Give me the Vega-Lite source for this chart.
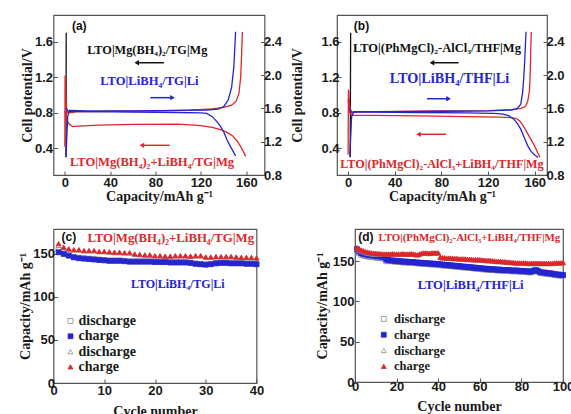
{
"$schema":"https://vega.github.io/schema/vega-lite/v6.json",
"background":"white",
"padding":{"left":17.5,"top":14,"right":0,"bottom":0},
"columns":1,
"spacing":24,
"resolve":{"scale":{"shape":"independent","fill":"independent","stroke":"independent","color":"independent"},"legend":{"shape":"independent","fill":"independent","stroke":"independent","color":"independent"}},
"config":{
 "view":{"stroke":"#555555","strokeWidth":1.2},
 "axis":{"domain":false,"grid":false,"ticks":true,"tickSize":-4,"tickColor":"#555555","tickWidth":1,"labelFont":"Liberation Sans","labelFontSize":13,"labelFontWeight":"bold","labelColor":"#1a1a1a","titleFont":"Liberation Serif","titleFontSize":14,"titleFontWeight":"bold","titleColor":"#1a1a1a","labelFlush":false,"labelOverlap":false},
 "text":{"font":"Liberation Serif","fontWeight":"bold","baseline":"middle","align":"center"}
},
"datasets":{
 "aL":[
  {"x":1.0,"y":0.30,"c":"k","k":"k1"},{"x":1.2,"y":1.70,"c":"k","k":"k1"},
  {"x":0.0,"y":0.42,"c":"r","k":"r1"},{"x":0.2,"y":1.22,"c":"r","k":"r1"},{"x":1.0,"y":0.95,"c":"r","k":"r1"},{"x":2,"y":0.80,"c":"r","k":"r1"},{"x":4,"y":0.80,"c":"r","k":"r1"},{"x":10,"y":0.81,"c":"r","k":"r1"},{"x":40,"y":0.815,"c":"r","k":"r1"},{"x":80,"y":0.82,"c":"r","k":"r1"},{"x":110,"y":0.83,"c":"r","k":"r1"},{"x":130,"y":0.845,"c":"r","k":"r1"},{"x":140,"y":0.86,"c":"r","k":"r1"},{"x":147,"y":0.885,"c":"r","k":"r1"},{"x":151,"y":0.93,"c":"r","k":"r1"},{"x":153.5,"y":1.02,"c":"r","k":"r1"},{"x":155,"y":1.2,"c":"r","k":"r1"},{"x":155.8,"y":1.45,"c":"r","k":"r1"},{"x":156.5,"y":1.71,"c":"r","k":"r1"},
  {"x":0,"y":0.82,"c":"r","k":"r2"},{"x":1.5,"y":0.72,"c":"r","k":"r2"},{"x":4,"y":0.67,"c":"r","k":"r2"},{"x":7,"y":0.645,"c":"r","k":"r2"},{"x":12,"y":0.65,"c":"r","k":"r2"},{"x":30,"y":0.66,"c":"r","k":"r2"},{"x":60,"y":0.67,"c":"r","k":"r2"},{"x":100,"y":0.672,"c":"r","k":"r2"},{"x":120,"y":0.655,"c":"r","k":"r2"},{"x":130,"y":0.635,"c":"r","k":"r2"},{"x":137,"y":0.61,"c":"r","k":"r2"},{"x":143,"y":0.58,"c":"r","k":"r2"},{"x":148,"y":0.54,"c":"r","k":"r2"},{"x":152,"y":0.48,"c":"r","k":"r2"},{"x":155,"y":0.42,"c":"r","k":"r2"},{"x":157.5,"y":0.36,"c":"r","k":"r2"},{"x":159.5,"y":0.31,"c":"r","k":"r2"}
 ],
 "aR":[
  {"x":1.0,"y":1.02,"k":"b1"},{"x":2.5,"y":1.50,"k":"b1"},{"x":4,"y":1.575,"k":"b1"},{"x":20,"y":1.57,"k":"b1"},{"x":60,"y":1.57,"k":"b1"},{"x":100,"y":1.575,"k":"b1"},{"x":125,"y":1.58,"k":"b1"},{"x":135,"y":1.59,"k":"b1"},{"x":140,"y":1.62,"k":"b1"},{"x":144,"y":1.70,"k":"b1"},{"x":147,"y":1.85,"k":"b1"},{"x":149,"y":2.1,"k":"b1"},{"x":150.5,"y":2.52,"k":"b1"},
  {"x":1,"y":1.60,"k":"b2"},{"x":3,"y":1.565,"k":"b2"},{"x":20,"y":1.56,"k":"b2"},{"x":60,"y":1.555,"k":"b2"},{"x":100,"y":1.55,"k":"b2"},{"x":120,"y":1.545,"k":"b2"},{"x":125,"y":1.54,"k":"b2"},{"x":130,"y":1.50,"k":"b2"},{"x":134,"y":1.44,"k":"b2"},{"x":137,"y":1.39,"k":"b2"},{"x":140,"y":1.32,"k":"b2"},{"x":143,"y":1.22,"k":"b2"},{"x":146,"y":1.14,"k":"b2"},{"x":148.5,"y":1.08,"k":"b2"},{"x":150.5,"y":1.03,"k":"b2"}
 ],
 "bL":[
  {"x":1.8,"y":0.30,"c":"k","k":"k1"},{"x":2.2,"y":1.70,"c":"k","k":"k1"},
  {"x":0,"y":0.33,"c":"r","k":"r1"},{"x":0.3,"y":1.06,"c":"r","k":"r1"},{"x":1.5,"y":0.86,"c":"r","k":"r1"},{"x":3,"y":0.80,"c":"r","k":"r1"},{"x":5,"y":0.81,"c":"r","k":"r1"},{"x":40,"y":0.815,"c":"r","k":"r1"},{"x":80,"y":0.82,"c":"r","k":"r1"},{"x":120,"y":0.825,"c":"r","k":"r1"},{"x":140,"y":0.835,"c":"r","k":"r1"},{"x":148,"y":0.85,"c":"r","k":"r1"},{"x":152,"y":0.87,"c":"r","k":"r1"},{"x":154,"y":0.93,"c":"r","k":"r1"},{"x":155.5,"y":1.05,"c":"r","k":"r1"},{"x":156,"y":1.2,"c":"r","k":"r1"},{"x":156.5,"y":1.45,"c":"r","k":"r1"},{"x":157,"y":1.71,"c":"r","k":"r1"},
  {"x":0,"y":0.95,"c":"r","k":"r2"},{"x":1.5,"y":0.80,"c":"r","k":"r2"},{"x":3.5,"y":0.77,"c":"r","k":"r2"},{"x":20,"y":0.77,"c":"r","k":"r2"},{"x":60,"y":0.765,"c":"r","k":"r2"},{"x":100,"y":0.757,"c":"r","k":"r2"},{"x":130,"y":0.75,"c":"r","k":"r2"},{"x":140,"y":0.745,"c":"r","k":"r2"},{"x":144,"y":0.735,"c":"r","k":"r2"},{"x":147,"y":0.71,"c":"r","k":"r2"},{"x":149,"y":0.675,"c":"r","k":"r2"},{"x":152,"y":0.61,"c":"r","k":"r2"},{"x":155,"y":0.54,"c":"r","k":"r2"},{"x":158,"y":0.47,"c":"r","k":"r2"},{"x":160.5,"y":0.41,"c":"r","k":"r2"},{"x":162.5,"y":0.35,"c":"r","k":"r2"},{"x":164.5,"y":0.30,"c":"r","k":"r2"}
 ],
 "bR":[
  {"x":1.5,"y":1.02,"k":"b1"},{"x":3,"y":1.50,"k":"b1"},{"x":5,"y":1.56,"k":"b1"},{"x":40,"y":1.56,"k":"b1"},{"x":80,"y":1.565,"k":"b1"},{"x":120,"y":1.57,"k":"b1"},{"x":140,"y":1.58,"k":"b1"},{"x":145,"y":1.595,"k":"b1"},{"x":148,"y":1.65,"k":"b1"},{"x":149.5,"y":1.78,"k":"b1"},{"x":150.5,"y":1.95,"k":"b1"},{"x":151.5,"y":2.2,"k":"b1"},{"x":152.5,"y":2.52,"k":"b1"},
  {"x":1,"y":1.60,"k":"b2"},{"x":3,"y":1.555,"k":"b2"},{"x":20,"y":1.555,"k":"b2"},{"x":60,"y":1.55,"k":"b2"},{"x":100,"y":1.545,"k":"b2"},{"x":125,"y":1.54,"k":"b2"},{"x":133,"y":1.53,"k":"b2"},{"x":138,"y":1.51,"k":"b2"},{"x":142,"y":1.47,"k":"b2"},{"x":145,"y":1.42,"k":"b2"},{"x":148,"y":1.35,"k":"b2"},{"x":151,"y":1.25,"k":"b2"},{"x":154,"y":1.15,"k":"b2"},{"x":157,"y":1.08,"k":"b2"},{"x":160,"y":1.04,"k":"b2"},{"x":163,"y":1.01,"k":"b2"}
 ],
 "aA":[{"x":63.4,"x2":87.3,"hx":63.4,"y":1.363,"c":"k","h":"l"},{"x":75.4,"x2":94.9,"hx":94.9,"y":0.970,"c":"b","h":"r"},{"x":67.9,"x2":92.4,"hx":67.9,"y":0.434,"c":"r","h":"l"}],
 "bA":[{"x":71.9,"x2":94.7,"hx":71.9,"y":1.363,"c":"k","h":"l"},{"x":67.6,"x2":86.1,"hx":86.1,"y":0.958,"c":"b","h":"r"},{"x":60.4,"x2":83.9,"hx":60.4,"y":0.558,"c":"r","h":"l"}],
 "cP":[
  {"n":1,"b":152,"a":155,"d":162,"c":160},{"n":2,"b":150,"a":151.5,"d":158,"c":157.5},{"n":3,"b":148,"a":149,"d":156,"c":155.5},{"n":4,"b":146,"a":146.5,"d":155,"c":154.5},{"n":5,"b":145,"a":145.5,"d":155,"c":154.5},{"n":6,"b":144.5,"a":145,"d":154,"c":153.5},{"n":7,"b":144,"a":144.5,"d":154,"c":153.5},{"n":8,"b":143.5,"a":144,"d":154,"c":153.5},{"n":9,"b":143,"a":143.5,"d":153,"c":152.5},{"n":10,"b":142.5,"a":143,"d":153,"c":152.5},
  {"n":11,"b":142,"a":142.5,"d":152.5,"c":152},{"n":12,"b":142,"a":142.5,"d":152,"c":151.5},{"n":13,"b":142,"a":142.5,"d":152,"c":151.5},{"n":14,"b":141.5,"a":142,"d":151.5,"c":151},{"n":15,"b":141,"a":141.5,"d":151.5,"c":151},{"n":16,"b":141,"a":141.5,"d":150,"c":149.5},{"n":17,"b":141,"a":141.5,"d":149.5,"c":149},{"n":18,"b":141,"a":141.5,"d":149,"c":148.5},{"n":19,"b":141,"a":141.5,"d":149,"c":148.5},{"n":20,"b":140.5,"a":141,"d":148,"c":147.5},
  {"n":21,"b":140.5,"a":141,"d":148,"c":147.5},{"n":22,"b":140.5,"a":141,"d":147.5,"c":147},{"n":23,"b":140,"a":140.5,"d":147.5,"c":147},{"n":24,"b":140,"a":140.5,"d":148,"c":147.5},{"n":25,"b":140,"a":140.5,"d":148,"c":147.5},{"n":26,"b":140,"a":140.5,"d":148,"c":147.5},{"n":27,"b":139.5,"a":140,"d":147.5,"c":147},{"n":28,"b":138.5,"a":139,"d":148,"c":147.5},{"n":29,"b":138,"a":138.5,"d":148,"c":147.5},{"n":30,"b":137.5,"a":138,"d":146.5,"c":146},
  {"n":31,"b":138,"a":138.5,"d":146.5,"c":146},{"n":32,"b":139,"a":139.5,"d":147,"c":146.5},{"n":33,"b":139.5,"a":140,"d":147,"c":146.5},{"n":34,"b":139.5,"a":140,"d":147,"c":146.5},{"n":35,"b":139,"a":139.5,"d":147,"c":146.5},{"n":36,"b":139,"a":139.5,"d":146.5,"c":146},{"n":37,"b":139,"a":139.5,"d":146,"c":145.5},{"n":38,"b":138.5,"a":139,"d":146,"c":145.5},{"n":39,"b":138.5,"a":139,"d":146,"c":145.5},{"n":40,"b":138,"a":138.5,"d":145.5,"c":145}
 ],
 "dP":[
  {"n":1,"b":165,"a":163,"d":167,"c":165.5},{"n":2,"b":162,"a":160,"d":165,"c":163.5},{"n":3,"b":160,"a":158,"d":164,"c":162.5},{"n":4,"b":159,"a":157,"d":163,"c":161.5},{"n":5,"b":158.5,"a":156.5,"d":162,"c":160.5},{"n":6,"b":158,"a":156,"d":161.5,"c":160},{"n":7,"b":157.5,"a":155.5,"d":161,"c":159.5},{"n":8,"b":157,"a":155,"d":160.5,"c":159},{"n":9,"b":157,"a":155,"d":160,"c":158.5},{"n":10,"b":156.5,"a":154.5,"d":160,"c":158.5},
  {"n":11,"b":156,"a":154,"d":159.5,"c":159},{"n":12,"b":156,"a":154,"d":159.5,"c":159},{"n":13,"b":155.5,"a":153.5,"d":159,"c":158.5},{"n":14,"b":155.5,"a":153.5,"d":159,"c":158.5},{"n":15,"b":152,"a":150,"d":159,"c":158.5},{"n":16,"b":151.5,"a":150.5,"d":159,"c":158.5},{"n":17,"b":151,"a":150,"d":159,"c":158.5},{"n":18,"b":151,"a":150,"d":159.5,"c":159},{"n":19,"b":150.5,"a":149.5,"d":159,"c":158.5},{"n":20,"b":150.5,"a":149.5,"d":159,"c":158.5},
  {"n":21,"b":150,"a":149,"d":159,"c":158.5},{"n":22,"b":150,"a":149,"d":159,"c":158.5},{"n":23,"b":149.5,"a":148.5,"d":159.5,"c":159},{"n":24,"b":149.5,"a":148.5,"d":159,"c":158.5},{"n":25,"b":149.5,"a":148.5,"d":159,"c":158.5},{"n":26,"b":149,"a":148,"d":159,"c":158.5},{"n":27,"b":149,"a":148,"d":159.5,"c":159},{"n":28,"b":149,"a":148,"d":159,"c":158.5},{"n":29,"b":148.5,"a":147.5,"d":158.5,"c":158},{"n":30,"b":148.5,"a":147.5,"d":158,"c":157.5},
  {"n":31,"b":148,"a":147,"d":159,"c":158.5},{"n":32,"b":148,"a":147,"d":160,"c":159.5},{"n":33,"b":147.5,"a":146.5,"d":160.5,"c":160},{"n":34,"b":147.5,"a":146.5,"d":160.5,"c":160},{"n":35,"b":147.5,"a":146.5,"d":160,"c":159.5},{"n":36,"b":147,"a":146,"d":160,"c":159.5},{"n":37,"b":147,"a":146,"d":160.5,"c":160},{"n":38,"b":147,"a":146,"d":160.5,"c":160},{"n":39,"b":146.5,"a":145.5,"d":160.5,"c":160},{"n":40,"b":146.5,"a":145.5,"d":160.5,"c":160},
  {"n":41,"b":146,"a":145,"d":155,"c":154.5},{"n":42,"b":146,"a":145,"d":154.5,"c":154},{"n":43,"b":145.5,"a":144.5,"d":154.5,"c":154},{"n":44,"b":145.5,"a":144.5,"d":154,"c":153.5},{"n":45,"b":145,"a":144,"d":154,"c":153.5},{"n":46,"b":145,"a":144,"d":154,"c":153.5},{"n":47,"b":144.5,"a":143.5,"d":153.5,"c":153},{"n":48,"b":144.5,"a":143.5,"d":153.5,"c":153},{"n":49,"b":144,"a":143,"d":153.5,"c":153},{"n":50,"b":144,"a":143,"d":153,"c":152.5},
  {"n":51,"b":143.5,"a":142.5,"d":153,"c":152.5},{"n":52,"b":143.5,"a":142.5,"d":153,"c":152.5},{"n":53,"b":143,"a":142,"d":153,"c":152.5},{"n":54,"b":143,"a":142,"d":152.5,"c":152},{"n":55,"b":142.5,"a":141.5,"d":152.5,"c":152},{"n":56,"b":142.5,"a":141.5,"d":152.5,"c":152},{"n":57,"b":142,"a":141,"d":152,"c":151.5},{"n":58,"b":142,"a":141,"d":152,"c":151.5},{"n":59,"b":141.5,"a":140.5,"d":152,"c":151.5},{"n":60,"b":141.5,"a":140.5,"d":152,"c":151.5},
  {"n":61,"b":141,"a":140,"d":151.5,"c":151},{"n":62,"b":141,"a":140,"d":151.5,"c":151},{"n":63,"b":140.5,"a":139.5,"d":151,"c":150.5},{"n":64,"b":140.5,"a":139.5,"d":151,"c":150.5},{"n":65,"b":140,"a":139,"d":151,"c":150.5},{"n":66,"b":140,"a":139,"d":150.5,"c":150},{"n":67,"b":140,"a":139,"d":150.5,"c":150},{"n":68,"b":139.5,"a":138.5,"d":150,"c":149.5},{"n":69,"b":139.5,"a":138.5,"d":150,"c":149.5},{"n":70,"b":139.5,"a":138.5,"d":150,"c":149.5},
  {"n":71,"b":139,"a":138,"d":149.5,"c":149},{"n":72,"b":139,"a":138,"d":149.5,"c":149},{"n":73,"b":139,"a":138,"d":149,"c":148.5},{"n":74,"b":139,"a":138,"d":149,"c":148.5},{"n":75,"b":138.5,"a":137.5,"d":148.5,"c":148},{"n":76,"b":138.5,"a":137.5,"d":148.5,"c":148},{"n":77,"b":138.5,"a":137.5,"d":148,"c":147.5},{"n":78,"b":138.5,"a":137.5,"d":148,"c":147.5},{"n":79,"b":138,"a":137,"d":148,"c":147.5},{"n":80,"b":138,"a":137,"d":148,"c":147.5},
  {"n":81,"b":138,"a":137,"d":148,"c":147.5},{"n":82,"b":137.5,"a":136.5,"d":148,"c":147.5},{"n":83,"b":137.5,"a":136.5,"d":147.5,"c":147},{"n":84,"b":137,"a":136,"d":147.5,"c":147},{"n":85,"b":137.5,"a":136.5,"d":147.5,"c":147},{"n":86,"b":138.5,"a":137.5,"d":147.5,"c":147},{"n":87,"b":139,"a":138,"d":147.5,"c":147},{"n":88,"b":138,"a":137,"d":147.5,"c":147},{"n":89,"b":136.5,"a":135.5,"d":147.5,"c":147},{"n":90,"b":136,"a":135,"d":147.5,"c":147},
  {"n":91,"b":136,"a":135,"d":147.5,"c":147},{"n":92,"b":135.5,"a":134.5,"d":147.5,"c":147},{"n":93,"b":135,"a":134,"d":147.5,"c":147},{"n":94,"b":135,"a":134,"d":147.5,"c":147},{"n":95,"b":134.5,"a":133.5,"d":147.5,"c":147},{"n":96,"b":134,"a":133,"d":148,"c":147.5},{"n":97,"b":133.5,"a":132.5,"d":148,"c":147.5},{"n":98,"b":133.5,"a":132.5,"d":148,"c":147.5},{"n":99,"b":133,"a":132,"d":148,"c":147.5},{"n":100,"b":133,"a":132,"d":148.5,"c":148}
 ]
},
"concat":[
 {"spacing":7.5,"hconcat":[
  {"width":211,"height":160,
   "layer":[
    {"layer":[
     {"data":{"name":"aL"},"mark":{"type":"line","strokeWidth":1.3},
      "encoding":{
       "x":{"field":"x","type":"quantitative","scale":{"domain":[-10,176],"nice":false,"zero":false},"axis":{"title":"Capacity/mAh g⁻¹","values":[0,40,80,120,160],"labelPadding":5,"titlePadding":0}},
       "y":{"field":"y","type":"quantitative","scale":{"domain":[0.1,1.9],"nice":false,"zero":false},"axis":{"title":"Cell potential/V","values":[0.4,0.8,1.2,1.6],"format":".1f","labelPadding":5,"titlePadding":0}},
       "color":{"field":"c","type":"nominal","scale":{"domain":["k","b","r"],"range":["#111111","#2525d0","#e0262b"]},"legend":null},
       "detail":{"field":"k"},
       "order":{"value":null}}},
     {"data":{"values":[{"x":72.7,"y":1.506,"t":"LTO|Mg(BH₄)₂/TG|Mg"}]},"mark":{"type":"text","fontSize":12.3,"color":"#111111"},
      "encoding":{"x":{"field":"x","type":"quantitative"},"y":{"field":"y","type":"quantitative"},"text":{"field":"t"}}},
     {"data":{"values":[{"x":74.6,"y":1.158,"t":"LTO|LiBH₄/TG|Li"}]},"mark":{"type":"text","fontSize":12.6,"color":"#2525d0"},
      "encoding":{"x":{"field":"x","type":"quantitative"},"y":{"field":"y","type":"quantitative"},"text":{"field":"t"}}},
     {"data":{"values":[{"x":76.9,"y":0.246,"t":"LTO|Mg(BH₄)₂+LiBH₄/TG|Mg"}]},"mark":{"type":"text","fontSize":12.6,"color":"#e0262b"},
      "encoding":{"x":{"field":"x","type":"quantitative"},"y":{"field":"y","type":"quantitative"},"text":{"field":"t"}}},
     {"data":{"values":[{"x":12.7,"y":1.776,"t":"(a)"}]},"mark":{"type":"text","fontSize":12,"font":"Liberation Sans","color":"#111111"},
      "encoding":{"x":{"field":"x","type":"quantitative"},"y":{"field":"y","type":"quantitative"},"text":{"field":"t"}}},
     {"data":{"name":"aA"},"mark":{"type":"rule","strokeWidth":1.5},
      "encoding":{"x":{"field":"x","type":"quantitative"},"x2":{"field":"x2"},"y":{"field":"y","type":"quantitative"},"color":{"field":"c","type":"nominal","legend":null}}},
     {"data":{"name":"aA"},"transform":[{"filter":"datum.h=='l'"}],"mark":{"type":"point","filled":true,"size":28,"opacity":1,"shape":"triangle-left"},
      "encoding":{"x":{"field":"hx","type":"quantitative"},"y":{"field":"y","type":"quantitative"},"color":{"field":"c","type":"nominal","legend":null}}},
     {"data":{"name":"aA"},"transform":[{"filter":"datum.h=='r'"}],"mark":{"type":"point","filled":true,"size":28,"opacity":1,"shape":"triangle-right"},
      "encoding":{"x":{"field":"hx","type":"quantitative"},"y":{"field":"y","type":"quantitative"},"color":{"field":"c","type":"nominal","legend":null}}}
    ]},
    {"data":{"name":"aR"},"mark":{"type":"line","strokeWidth":1.3,"color":"#2525d0"},
     "encoding":{
      "x":{"field":"x","type":"quantitative"},
      "y":{"field":"y","type":"quantitative","scale":{"domain":[0.8,2.72],"nice":false,"zero":false},"axis":{"orient":"right","title":null,"values":[0.8,1.2,1.6,2.0,2.4],"format":".1f","labelPadding":3}},
      "detail":{"field":"k"},
      "order":{"value":null}}}
   ],
   "resolve":{"scale":{"y":"independent"}}},
  {"width":210,"height":160,
   "layer":[
    {"layer":[
     {"data":{"name":"bL"},"mark":{"type":"line","strokeWidth":1.3},
      "encoding":{
       "x":{"field":"x","type":"quantitative","scale":{"domain":[-9.5,170.5],"nice":false,"zero":false},"axis":{"title":"Capacity/mAh g⁻¹","values":[0,40,80,120,160],"labelPadding":5,"titlePadding":0}},
       "y":{"field":"y","type":"quantitative","scale":{"domain":[0.1,1.9],"nice":false,"zero":false},"axis":{"title":"Cell potential/V","values":[0.4,0.8,1.2,1.6],"format":".1f","labelPadding":2,"titlePadding":16}},
       "color":{"field":"c","type":"nominal","scale":{"domain":["k","b","r"],"range":["#111111","#2525d0","#e0262b"]},"legend":null},
       "detail":{"field":"k"},
       "order":{"value":null}}},
     {"data":{"values":[{"x":76.2,"y":1.532,"t":"LTO|(PhMgCl)₂-AlCl₃/THF|Mg"}]},"mark":{"type":"text","fontSize":12.5,"color":"#111111"},
      "encoding":{"x":{"field":"x","type":"quantitative"},"y":{"field":"y","type":"quantitative"},"text":{"field":"t"}}},
     {"data":{"values":[{"x":86.9,"y":1.177,"t":"LTO|LiBH₄/THF|Li"}]},"mark":{"type":"text","fontSize":14.2,"color":"#2525d0"},
      "encoding":{"x":{"field":"x","type":"quantitative"},"y":{"field":"y","type":"quantitative"},"text":{"field":"t"}}},
     {"data":{"values":[{"x":80.5,"y":0.220,"t":"LTO|(PhMgCl)₂-AlCl₃+LiBH₄/THF|Mg"}]},"mark":{"type":"text","fontSize":12.2,"color":"#e0262b"},
      "encoding":{"x":{"field":"x","type":"quantitative"},"y":{"field":"y","type":"quantitative"},"text":{"field":"t"}}},
     {"data":{"values":[{"x":11.5,"y":1.776,"t":"(b)"}]},"mark":{"type":"text","fontSize":12,"font":"Liberation Sans","color":"#111111"},
      "encoding":{"x":{"field":"x","type":"quantitative"},"y":{"field":"y","type":"quantitative"},"text":{"field":"t"}}},
     {"data":{"name":"bA"},"mark":{"type":"rule","strokeWidth":1.5},
      "encoding":{"x":{"field":"x","type":"quantitative"},"x2":{"field":"x2"},"y":{"field":"y","type":"quantitative"},"color":{"field":"c","type":"nominal","legend":null}}},
     {"data":{"name":"bA"},"transform":[{"filter":"datum.h=='l'"}],"mark":{"type":"point","filled":true,"size":28,"opacity":1,"shape":"triangle-left"},
      "encoding":{"x":{"field":"hx","type":"quantitative"},"y":{"field":"y","type":"quantitative"},"color":{"field":"c","type":"nominal","legend":null}}},
     {"data":{"name":"bA"},"transform":[{"filter":"datum.h=='r'"}],"mark":{"type":"point","filled":true,"size":28,"opacity":1,"shape":"triangle-right"},
      "encoding":{"x":{"field":"hx","type":"quantitative"},"y":{"field":"y","type":"quantitative"},"color":{"field":"c","type":"nominal","legend":null}}}
    ]},
    {"data":{"name":"bR"},"mark":{"type":"line","strokeWidth":1.3,"color":"#2525d0"},
     "encoding":{
      "x":{"field":"x","type":"quantitative"},
      "y":{"field":"y","type":"quantitative","scale":{"domain":[0.8,2.72],"nice":false,"zero":false},"axis":{"orient":"right","title":null,"values":[0.8,1.2,1.6,2.0,2.4],"format":".1f","labelPadding":3}},
      "detail":{"field":"k"},
      "order":{"value":null}}}
   ],
   "resolve":{"scale":{"y":"independent"}}}
 ]},
 {"spacing":49.5,
  "resolve":{"scale":{"shape":"independent","fill":"independent","stroke":"independent"},"legend":{"shape":"independent","fill":"independent","stroke":"independent"}},
  "hconcat":[
  {"width":203,"height":154,
   "layer":[
    {"data":{"name":"cP"},"transform":[{"fold":["a","b","c","d"],"as":["s","v"]}],
     "mark":{"type":"point","strokeWidth":0.8,"size":24,"opacity":1},
     "encoding":{
      "x":{"field":"n","type":"quantitative","scale":{"domain":[0,40],"nice":false},"axis":{"title":"Cycle number","values":[0,10,20,30,40],"labelPadding":5,"titlePadding":7}},
      "y":{"field":"v","type":"quantitative","scale":{"domain":[0,179],"nice":false},"axis":{"title":"Capacity/mAh g⁻¹","values":[0,50,100,150],"labelPadding":3,"titlePadding":0}},
      "shape":{"field":"s","type":"nominal","scale":{"domain":["a","b","c","d"],"range":["square","square","triangle-up","triangle-up"]},"legend":{"orient":"none","legendX":10,"legendY":85,"title":null,"labelExpr":"datum.value=='a'||datum.value=='c'?'discharge':'charge'","symbolSize":24,"rowPadding":1.3,"labelOffset":1,"padding":0,"labelFont":"Liberation Serif","labelFontWeight":"bold","labelFontSize":14,"labelColor":"#1a1a1a","symbolStrokeWidth":0.8}},
      "fill":{"field":"s","type":"nominal","scale":{"domain":["a","b","c","d"],"range":["transparent","#2525d0","transparent","#e0262b"]},"legend":{"orient":"none","legendX":10,"legendY":85,"title":null,"labelExpr":"datum.value=='a'||datum.value=='c'?'discharge':'charge'","symbolSize":24,"rowPadding":1.3,"labelOffset":1,"padding":0,"labelFont":"Liberation Serif","labelFontWeight":"bold","labelFontSize":14,"labelColor":"#1a1a1a","symbolStrokeWidth":0.8}},
      "stroke":{"field":"s","type":"nominal","scale":{"domain":["a","b","c","d"],"range":["#8a8a8a","#2525d0","#8a8a8a","#e0262b"]},"legend":{"orient":"none","legendX":10,"legendY":85,"title":null,"labelExpr":"datum.value=='a'||datum.value=='c'?'discharge':'charge'","symbolSize":24,"rowPadding":1.3,"labelOffset":1,"padding":0,"labelFont":"Liberation Serif","labelFontWeight":"bold","labelFontSize":14,"labelColor":"#1a1a1a","symbolStrokeWidth":0.8}},
      "order":{"field":"s","sort":"ascending"}}},
    {"data":{"values":[{"x":3.03,"y":169.4,"t":"(c)"}]},"mark":{"type":"text","fontSize":12,"font":"Liberation Sans","color":"#111111"},
     "encoding":{"x":{"field":"x","type":"quantitative"},"y":{"field":"y","type":"quantitative"},"text":{"field":"t"}}},
    {"data":{"values":[{"x":23.1,"y":168.2,"t":"LTO|Mg(BH₄)₂+LiBH₄/TG|Mg"}]},"mark":{"type":"text","fontSize":12.8,"color":"#e0262b"},
     "encoding":{"x":{"field":"x","type":"quantitative"},"y":{"field":"y","type":"quantitative"},"text":{"field":"t"}}},
    {"data":{"values":[{"x":24.5,"y":115.2,"t":"LTO|LiBH₄/TG|Li"}]},"mark":{"type":"text","fontSize":12,"color":"#2525d0"},
     "encoding":{"x":{"field":"x","type":"quantitative"},"y":{"field":"y","type":"quantitative"},"text":{"field":"t"}}}
   ]},
  {"width":208,"height":153,
   "layer":[
    {"data":{"name":"dP"},"transform":[{"fold":["a","b","c","d"],"as":["s","v"]}],
     "mark":{"type":"point","strokeWidth":0.8,"size":24,"opacity":1},
     "encoding":{
      "x":{"field":"n","type":"quantitative","scale":{"domain":[0,100],"nice":false},"axis":{"title":"Cycle number","values":[0,20,40,60,80,100],"labelPadding":2,"titlePadding":6.5}},
      "y":{"field":"v","type":"quantitative","scale":{"domain":[0,190],"nice":false},"axis":{"title":"Capacity/mAh g⁻¹","values":[0,50,100,150],"labelPadding":5,"titlePadding":3}},
      "shape":{"field":"s","type":"nominal","scale":{"domain":["a","b","c","d"],"range":["square","square","triangle-up","triangle-up"]},"legend":{"orient":"none","legendX":22.5,"legendY":83.7,"title":null,"labelExpr":"datum.value=='a'||datum.value=='c'?'discharge':'charge'","symbolSize":24,"rowPadding":2.8,"labelOffset":4,"padding":0,"labelFont":"Liberation Serif","labelFontWeight":"bold","labelFontSize":12.5,"labelColor":"#1a1a1a","symbolStrokeWidth":0.8}},
      "fill":{"field":"s","type":"nominal","scale":{"domain":["a","b","c","d"],"range":["transparent","#2525d0","transparent","#e0262b"]},"legend":{"orient":"none","legendX":22.5,"legendY":83.7,"title":null,"labelExpr":"datum.value=='a'||datum.value=='c'?'discharge':'charge'","symbolSize":24,"rowPadding":2.8,"labelOffset":4,"padding":0,"labelFont":"Liberation Serif","labelFontWeight":"bold","labelFontSize":12.5,"labelColor":"#1a1a1a","symbolStrokeWidth":0.8}},
      "stroke":{"field":"s","type":"nominal","scale":{"domain":["a","b","c","d"],"range":["#8a8a8a","#2525d0","#8a8a8a","#e0262b"]},"legend":{"orient":"none","legendX":22.5,"legendY":83.7,"title":null,"labelExpr":"datum.value=='a'||datum.value=='c'?'discharge':'charge'","symbolSize":24,"rowPadding":2.8,"labelOffset":4,"padding":0,"labelFont":"Liberation Serif","labelFontWeight":"bold","labelFontSize":12.5,"labelColor":"#1a1a1a","symbolStrokeWidth":0.8}},
      "order":{"field":"s","sort":"ascending"}}},
    {"data":{"values":[{"x":5.2,"y":180,"t":"(d)"}]},"mark":{"type":"text","fontSize":12,"font":"Liberation Sans","color":"#111111"},
     "encoding":{"x":{"field":"x","type":"quantitative"},"y":{"field":"y","type":"quantitative"},"text":{"field":"t"}}},
    {"data":{"values":[{"x":55.0,"y":178.8,"t":"LTO|(PhMgCl)₂-AlCl₃+LiBH₄/THF|Mg"}]},"mark":{"type":"text","fontSize":10.9,"color":"#e0262b"},
     "encoding":{"x":{"field":"x","type":"quantitative"},"y":{"field":"y","type":"quantitative"},"text":{"field":"t"}}},
    {"data":{"values":[{"x":55.6,"y":120,"t":"LTO|LiBH₄/THF|Li"}]},"mark":{"type":"text","fontSize":12.6,"color":"#2525d0"},
     "encoding":{"x":{"field":"x","type":"quantitative"},"y":{"field":"y","type":"quantitative"},"text":{"field":"t"}}}
   ]}
 ]}
]
}
